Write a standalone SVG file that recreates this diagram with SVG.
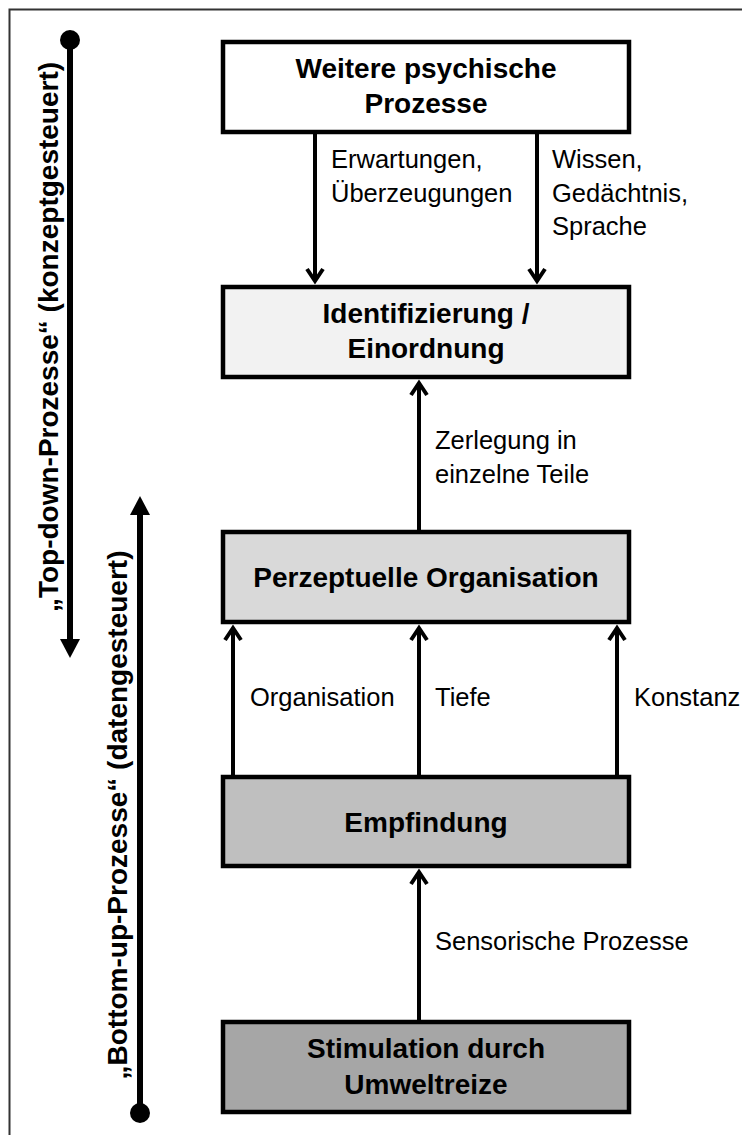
<svg xmlns="http://www.w3.org/2000/svg" width="742" height="1135" viewBox="0 0 742 1135">
  <style>
    .box { stroke: #000; stroke-width: 4.5; }
    .title { font-family: "Liberation Sans", Arial, sans-serif; font-weight: bold; font-size: 28px; fill: #000; text-anchor: middle; }
    .label { font-family: "Liberation Sans", Arial, sans-serif; font-size: 25.5px; fill: #000; }
    .side { font-family: "Liberation Sans", Arial, sans-serif; font-weight: bold; font-size: 28px; fill: #000; text-anchor: middle; }
    .conn { stroke: #000; stroke-width: 4; fill: none; }
    .axis { stroke: #000; stroke-width: 6; fill: none; }
  </style>
  <defs>
    <marker id="chevron" markerUnits="userSpaceOnUse" viewBox="-20 -15 30 30" markerWidth="30" markerHeight="30" refX="0" refY="0" orient="auto" overflow="visible">
      <path d="M-12,-8 L0,0 L-12,8" fill="none" stroke="#000" stroke-width="4" stroke-linejoin="miter"/>
    </marker>
  </defs>

  <rect width="742" height="1135" fill="#fff"/>
  <!-- frame edges -->
  <path d="M9.5,1135 V9.5 H742" fill="none" stroke="#333" stroke-width="2"/>

  <!-- side axes -->
  <g id="top-down">
    <circle cx="70" cy="40" r="10" fill="#000"/>
    <line class="axis" x1="70" y1="40" x2="70" y2="641"/>
    <polygon points="60,639 80,639 70,658" fill="#000"/>
    <text class="side" transform="translate(58,337) rotate(-90)">„Top-down-Prozesse“ (konzeptgesteuert)</text>
  </g>
  <g id="bottom-up">
    <circle cx="140" cy="1113" r="10" fill="#000"/>
    <line class="axis" x1="140" y1="1113" x2="140" y2="513"/>
    <polygon points="130,515 150,515 140,496" fill="#000"/>
    <text class="side" transform="translate(127,815) rotate(-90)">„Bottom-up-Prozesse“ (datengesteuert)</text>
  </g>

  <!-- connectors -->
  <g id="connectors">
    <line class="conn" x1="315" y1="134" x2="315" y2="281" marker-end="url(#chevron)"/>
    <line class="conn" x1="537" y1="134" x2="537" y2="281" marker-end="url(#chevron)"/>
    <line class="conn" x1="419" y1="530" x2="419" y2="383" marker-end="url(#chevron)"/>
    <line class="conn" x1="233" y1="775" x2="233" y2="628" marker-end="url(#chevron)"/>
    <line class="conn" x1="419" y1="775" x2="419" y2="628" marker-end="url(#chevron)"/>
    <line class="conn" x1="617" y1="775" x2="617" y2="628" marker-end="url(#chevron)"/>
    <line class="conn" x1="419" y1="1020" x2="419" y2="872" marker-end="url(#chevron)"/>

    <text class="label" x="331" y="168">Erwartungen,</text>
    <text class="label" x="331" y="201.5">Überzeugungen</text>
    <text class="label" x="552" y="168">Wissen,</text>
    <text class="label" x="552" y="201.5">Gedächtnis,</text>
    <text class="label" x="552" y="235">Sprache</text>
    <text class="label" x="435" y="449">Zerlegung in</text>
    <text class="label" x="435" y="482.5">einzelne Teile</text>
    <text class="label" x="250" y="706">Organisation</text>
    <text class="label" x="435" y="706">Tiefe</text>
    <text class="label" x="634" y="706">Konstanz</text>
    <text class="label" x="435" y="950">Sensorische Prozesse</text>
  </g>

  <!-- nodes -->
  <g id="weitere-prozesse">
    <rect class="box" x="223" y="42" width="406" height="90" fill="#fff"/>
    <text class="title" x="426" y="78">Weitere psychische</text>
    <text class="title" x="426" y="113">Prozesse</text>
  </g>
  <g id="identifizierung">
    <rect class="box" x="223" y="287" width="406" height="90" fill="#f2f2f2"/>
    <text class="title" x="426" y="323">Identifizierung /</text>
    <text class="title" x="426" y="358">Einordnung</text>
  </g>
  <g id="perzeptuelle-organisation">
    <rect class="box" x="223" y="532" width="406" height="90" fill="#d9d9d9"/>
    <text class="title" x="426" y="587">Perzeptuelle Organisation</text>
  </g>
  <g id="empfindung">
    <rect class="box" x="223" y="777" width="406" height="89" fill="#bfbfbf"/>
    <text class="title" x="426" y="832">Empfindung</text>
  </g>
  <g id="stimulation">
    <rect class="box" x="223" y="1022" width="406" height="90" fill="#a6a6a6"/>
    <text class="title" x="426" y="1058">Stimulation durch</text>
    <text class="title" x="426" y="1094">Umweltreize</text>
  </g>
</svg>
